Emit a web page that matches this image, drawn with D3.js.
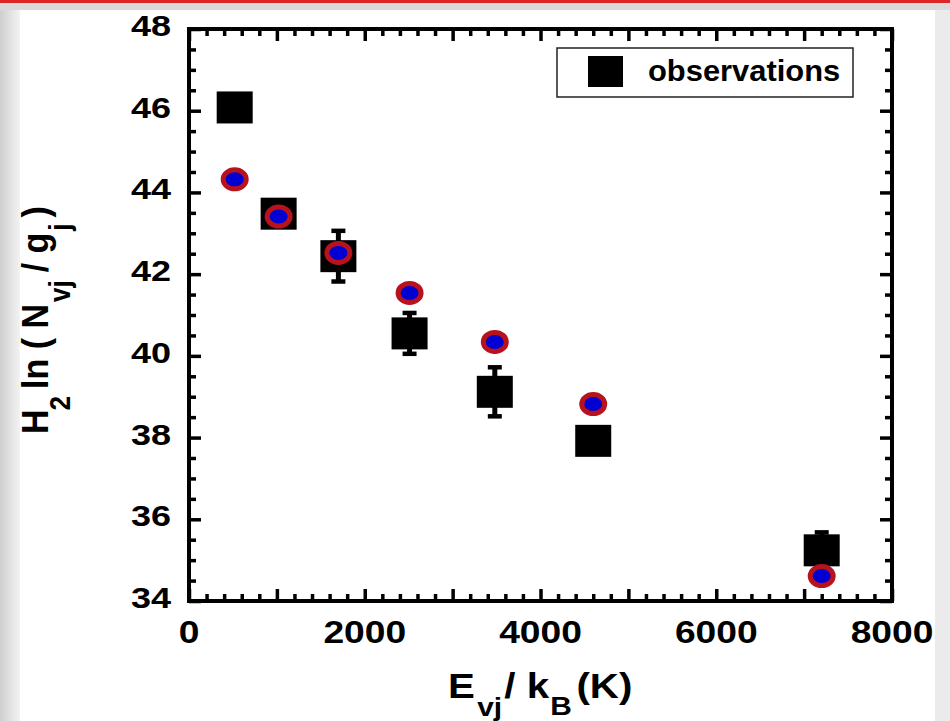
<!DOCTYPE html>
<html><head><meta charset="utf-8">
<script src="https://cdn.jsdelivr.net/npm/d3@7"></script>
<style>body{margin:0;padding:0;overflow:hidden;background:#fff}svg{display:block}</style>
</head><body>
<script>
// ---- data ----
const energies   = [520, 1020, 1700, 2510, 3480, 4600, 7200];
const observed   = [46.08, 43.48, 42.44, 40.55, 39.12, 37.92, 35.24];
const obsError   = [0.3, 0.3, 0.62, 0.5, 0.6, 0.3, 0.44];
const modelVals  = [44.32, 43.41, 42.52, 41.54, 40.34, 38.82, 34.61];
const xTickLabels = [0, 2000, 4000, 6000, 8000];
const yTickLabels = [34, 36, 38, 40, 42, 44, 46, 48];
const legendLabel = "observations";

const W = 950, H = 721;
const svg = d3.select("body").append("svg").attr("width", W).attr("height", H);

// background / page frame
const defs = svg.append("defs");
const lg = defs.append("linearGradient").attr("id","lgl").attr("x1","0").attr("x2","1");
lg.append("stop").attr("offset","0").attr("stop-color","#cfcfcf");
lg.append("stop").attr("offset","1").attr("stop-color","#f3f3f3");
svg.append("rect").attr("width",W).attr("height",H).attr("fill","#ebebeb");
svg.append("rect").attr("x",0).attr("y",0).attr("width",20).attr("height",H).attr("fill","url(#lgl)");
svg.append("rect").attr("x",20).attr("y",10).attr("width",915).attr("height",H-10).attr("fill","#fff");
svg.append("rect").attr("x",0).attr("y",0).attr("width",W).attr("height",3).attr("fill","#e02525");
svg.append("rect").attr("x",0).attr("y",3).attr("width",W).attr("height",7).attr("fill","#dadada");

const L = 189, R = 892, T = 29, B = 601;
const x = d3.scaleLinear().domain([0, 8000]).range([L, R]);
const y = d3.scaleLinear().domain([34, 48]).range([B, T]);
const SX = 1.2;
const font = "'Liberation Sans', Arial, Helvetica, sans-serif";

// ticks via d3 axes (inward)
function styleAxis(g){
  g.select(".domain").remove();
  g.selectAll(".tick line").attr("stroke","#000").attr("stroke-width",3.5);
  g.selectAll(".tick text").remove();
}
const xMaj = d3.range(0, 8001, 1000), xMin = d3.range(0, 8001, 200).filter(v => v % 1000 !== 0);
const yMaj = d3.range(34, 48.01, 2), yMin = d3.range(34, 48.01, 0.5).filter(v => v % 2 !== 0);
svg.append("g").attr("transform",`translate(0,${B})`).call(d3.axisBottom(x).tickValues(xMaj).tickSize(-12)).call(styleAxis);
svg.append("g").attr("transform",`translate(0,${B})`).call(d3.axisBottom(x).tickValues(xMin).tickSize(-7)).call(styleAxis);
svg.append("g").attr("transform",`translate(0,${T})`).call(d3.axisTop(x).tickValues(xMaj).tickSize(-12)).call(styleAxis);
svg.append("g").attr("transform",`translate(0,${T})`).call(d3.axisTop(x).tickValues(xMin).tickSize(-7)).call(styleAxis);
svg.append("g").attr("transform",`translate(${L},0)`).call(d3.axisLeft(y).tickValues(yMaj).tickSize(-12)).call(styleAxis);
svg.append("g").attr("transform",`translate(${L},0)`).call(d3.axisLeft(y).tickValues(yMin).tickSize(-7)).call(styleAxis);
svg.append("g").attr("transform",`translate(${R},0)`).call(d3.axisRight(y).tickValues(yMaj).tickSize(-12)).call(styleAxis);
svg.append("g").attr("transform",`translate(${R},0)`).call(d3.axisRight(y).tickValues(yMin).tickSize(-7)).call(styleAxis);

// frame
svg.append("rect").attr("x",L).attr("y",T).attr("width",R-L).attr("height",B-T)
  .attr("fill","none").attr("stroke","#000").attr("stroke-width",4);

// tick labels
svg.append("g").selectAll("text").data(yTickLabels).join("text")
  .attr("transform", d => `translate(171,${y(d)+7}) scale(${SX},1)`)
  .attr("text-anchor","end").attr("font-family",font).attr("font-weight","bold")
  .attr("font-size",30).attr("fill","#000").text(d => d);
svg.append("g").selectAll("text").data(xTickLabels).join("text")
  .attr("transform", d => `translate(${x(d)},643) scale(${SX},1)`)
  .attr("text-anchor","middle").attr("font-family",font).attr("font-weight","bold")
  .attr("font-size",31).attr("fill","#000").text(d => d);

// data
const pts = energies.map((e,i) => ({e, o: observed[i], err: obsError[i], m: modelVals[i]}));
const obsG = svg.append("g");
obsG.selectAll("line.stem").data(pts).join("line").attr("class","stem")
  .attr("x1", d => x(d.e)).attr("x2", d => x(d.e))
  .attr("y1", d => y(d.o + d.err)).attr("y2", d => y(d.o - d.err))
  .attr("stroke","#000").attr("stroke-width",5);
["top","bot"].forEach(k => {
  obsG.selectAll("line.cap"+k).data(pts).join("line").attr("class","cap"+k)
    .attr("x1", d => x(d.e)-7).attr("x2", d => x(d.e)+7)
    .attr("y1", d => y(k==="top" ? d.o + d.err : d.o - d.err))
    .attr("y2", d => y(k==="top" ? d.o + d.err : d.o - d.err))
    .attr("stroke","#000").attr("stroke-width",4.5);
});
obsG.selectAll("rect").data(pts).join("rect")
  .attr("x", d => x(d.e)-18).attr("y", d => y(d.o)-16)
  .attr("width",36).attr("height",32).attr("fill","#000");

svg.append("g").selectAll("ellipse").data(pts).join("ellipse")
  .attr("cx", d => x(d.e)).attr("cy", d => y(d.m))
  .attr("rx",11.5).attr("ry",9.5)
  .attr("fill","#0000d2").attr("stroke","#b8121c").attr("stroke-width",5);

// legend
svg.append("rect").attr("x",557).attr("y",48).attr("width",296).attr("height",49)
  .attr("fill","#fff").attr("stroke","#222").attr("stroke-width",1.5);
svg.append("rect").attr("x",588).attr("y",56).attr("width",35).attr("height",31).attr("fill","#000");
svg.append("text").attr("transform","translate(648,81) scale(1.03,1)").attr("font-family",font).attr("font-weight","bold")
  .attr("font-size",30).attr("fill","#000").text(legendLabel);

// x axis title
const xt = svg.append("text").attr("transform",`translate(448,698) scale(1.15,1)`)
  .attr("font-family",font).attr("font-weight","bold").attr("font-size",35).attr("fill","#000");
xt.append("tspan").text("E");
xt.append("tspan").attr("font-size",26).attr("dy",18).attr("dx",2).text("vj");
xt.append("tspan").attr("dy",-18).attr("dx",2).text("/ k");
xt.append("tspan").attr("font-size",26).attr("dy",17).attr("dx",1).text("B");
xt.append("tspan").attr("dy",-17).attr("dx",4).text("(K)");

// y axis title
const yt = svg.append("text").attr("transform",`translate(48,434) scale(1.1,1) rotate(-90)`)
  .attr("font-family",font).attr("font-weight","bold").attr("font-size",34).attr("fill","#000");
yt.append("tspan").text("H");
yt.append("tspan").attr("font-size",26).attr("dy",20).attr("dx",-1).text("2");
yt.append("tspan").attr("dy",-20).attr("dx",7).text("ln ( N");
yt.append("tspan").attr("font-size",26).attr("dy",20).attr("dx",2).text("vj");
yt.append("tspan").attr("dy",-20).attr("dx",8).text("/ g");
yt.append("tspan").attr("font-size",26).attr("dy",20).attr("dx",2).text("j");
yt.append("tspan").attr("dy",-20).attr("dx",6).text(")");
</script>
</body></html>
